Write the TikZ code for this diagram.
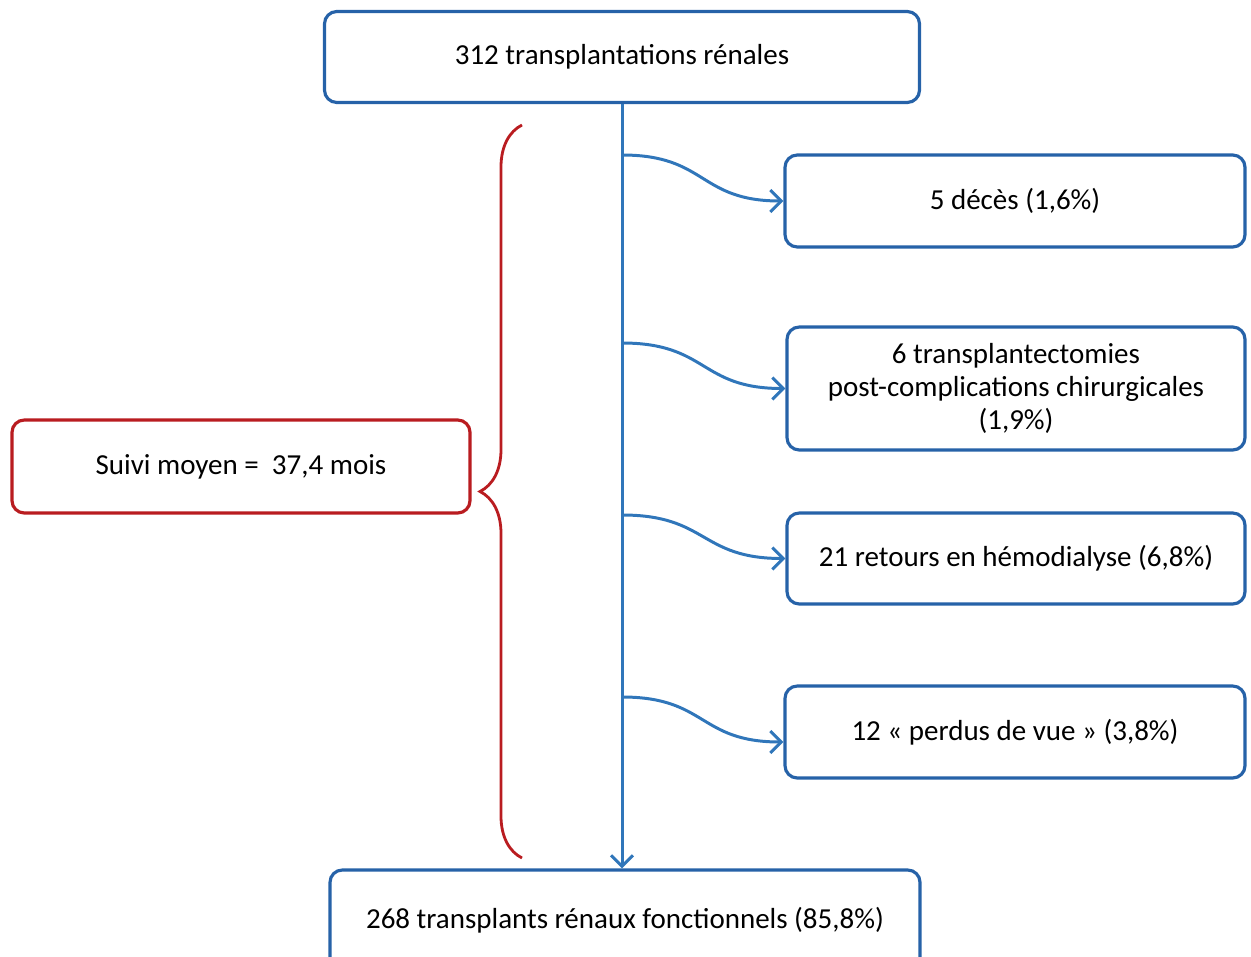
\documentclass[tikz,border=0pt]{standalone}
\usepackage{fontspec}
\setmainfont{Carlito}
\usepackage{xcolor}
\usetikzlibrary{arrows.meta, positioning, calc, decorations.pathreplacing}
\definecolor{boxblue}{RGB}{38,98,168}
\definecolor{lineblue}{RGB}{48,118,186}
\definecolor{bracered}{RGB}{185,28,32}

\begin{document}
\begin{tikzpicture}[
    font=\fontsize{16.5pt}{19pt}\selectfont,
    box/.style={
        draw=boxblue,
        rounded corners=7pt,
        line width=1.8pt,
        align=center,
        fill=white
    },
    redbox/.style={
        draw=bracered,
        rounded corners=7pt,
        line width=1.8pt,
        align=center
    },
    arrow/.style={
        draw=lineblue,
        -{Straight Barb[length=2.2mm,width=4.4mm]},
        line width=1.7pt
    },
    brace/.style={
        draw=bracered,
        line width=1.6pt,
        decorate,
        decoration={brace, amplitude=0.84cm}
    }
]

\useasboundingbox (0,0) rectangle (25.02,-19.14);

% =========================
% Colonne centrale
% =========================
\node[box, minimum width=11.9cm, minimum height=1.82cm] (start)
    at (12.44,-1.14) {312 transplantations rénales};

\node[box, minimum width=11.8cm, minimum height=2cm] (result)
    at (12.5,-18.4) {268 transplants rénaux fonctionnels (85,8\%)};

% =========================
% Sorties a droite
% =========================
\node[box, minimum width=9.2cm, minimum height=1.84cm] (deces)
    at (20.30,-4.02) {5 décès (1,6\%)};

\node[box, minimum width=9.16cm, minimum height=2.46cm] (ectomie)
    at (20.32,-7.77) {6 transplantectomies\\post-complications chirurgicales\\(1,9\%)};

\node[box, minimum width=9.16cm, minimum height=1.82cm] (dialyse)
    at (20.32,-11.17) {21 retours en hémodialyse (6,8\%)};

\node[box, minimum width=9.2cm, minimum height=1.84cm] (perdus)
    at (20.30,-14.64) {12 « perdus de vue » (3,8\%)};

% =========================
% Suivi
% =========================
\node[redbox, minimum width=9.16cm, minimum height=1.86cm] (suivi)
    at (4.82,-9.33) {Suivi moyen =\ \ 37,4 mois};

% =========================
% Fleche verticale
% =========================
\draw[arrow]
    (start.south) -- (start.south |- result.north);

% =========================
% Branches vers les sorties
% =========================
\coordinate (brDeces)   at (12.44,-3.10);
\coordinate (brEctomie) at (12.44,-6.86);
\coordinate (brDialyse) at (12.44,-10.30);
\coordinate (brPerdus)  at (12.44,-13.94);

\draw[arrow]
    (brDeces) to[out=0,in=180,looseness=1.3] (deces.west);

\draw[arrow]
    (brEctomie) to[out=0,in=180,looseness=1.3] (ectomie.west);

\draw[arrow]
    (brDialyse) to[out=0,in=180,looseness=1.3] (dialyse.west);

\draw[arrow]
    (brPerdus) to[out=0,in=180,looseness=1.3] ($(perdus.west)+(0,-0.2)$);

% =========================
% Accolade
% =========================
\coordinate (braceLow)  at (10.44,-17.16);
\coordinate (braceHigh) at (10.44,-2.50);

\draw[brace] (braceLow) -- (braceHigh);

\end{tikzpicture}
\end{document}
